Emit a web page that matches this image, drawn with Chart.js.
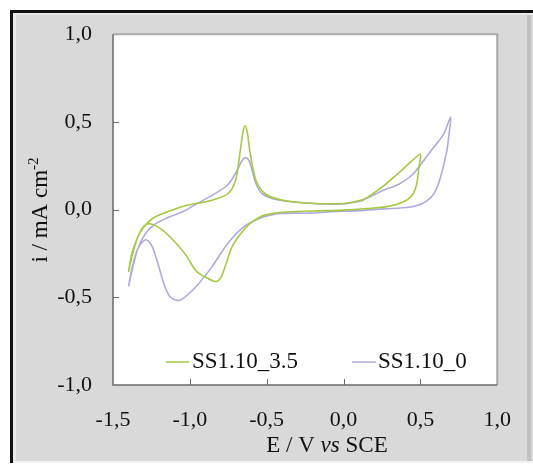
<!DOCTYPE html>
<html>
<head>
<meta charset="utf-8">
<script src="https://cdn.jsdelivr.net/npm/chart.js@4/dist/chart.umd.min.js"></script>
<style>
  html, body { margin: 0; padding: 0; background: #fff; }
</style>
</head>
<body>
<canvas id="cvChart" width="533" height="466"></canvas>
<script>
// series names and colours (legend order)
const seriesNames = ["SS1.10_3.5", "SS1.10_0"];
const seriesColors = ["#a5c942", "#aeaadc"];

// SS1.10_3.5 - one cycle: anodic sweep from -1.4 V to 0.5 V, then back
const greenE = [-1.399, -1.38, -1.354, -1.32, -1.28, -1.23, -1.127, -1.024, -0.92, -0.85, -0.755, -0.703, -0.672, -0.655, -0.641, -0.626, -0.61, -0.569, -0.507, -0.403, -0.217, 0.0, 0.1, 0.155, 0.26, 0.36, 0.445, 0.5,
  0.49, 0.476, 0.445, 0.383, 0.28, 0.155, 0.0, -0.2, -0.403, -0.507, -0.55, -0.615, -0.672, -0.724, -0.765, -0.796, -0.83, -0.9, -0.962, -1.024, -1.106, -1.189, -1.261, -1.30, -1.34, -1.375, -1.399];
const greenI = [-0.355, -0.26, -0.19, -0.125, -0.08, -0.044, -0.006, 0.023, 0.041, 0.055, 0.089, 0.165, 0.335, 0.44, 0.478, 0.44, 0.335, 0.165, 0.089, 0.055, 0.036, 0.035, 0.05, 0.07, 0.135, 0.21, 0.278, 0.316,
  0.24, 0.146, 0.08, 0.042, 0.017, 0.006, -0.003, -0.008, -0.015, -0.03, -0.045, -0.085, -0.14, -0.21, -0.31, -0.384, -0.41, -0.384, -0.347, -0.261, -0.176, -0.11, -0.081, -0.095, -0.16, -0.26, -0.355];

// SS1.10_0 - one cycle: anodic sweep from -1.4 V to 0.7 V, then back
const lavE = [-1.399, -1.367, -1.336, -1.293, -1.23, -1.146, -1.04, -0.962, -0.858, -0.755, -0.693, -0.66, -0.637, -0.615, -0.6, -0.569, -0.527, -0.424, -0.217, -0.008, 0.119, 0.155, 0.26, 0.362, 0.45, 0.496, 0.569, 0.651, 0.697,
  0.685, 0.672, 0.631, 0.6, 0.569, 0.507, 0.424, 0.259, 0.1, -0.1, -0.217, -0.403, -0.527, -0.651, -0.755, -0.858, -0.962, -1.065, -1.127, -1.168, -1.21, -1.251, -1.288, -1.334, -1.375, -1.399];
const lavI = [-0.438, -0.313, -0.218, -0.142, -0.085, -0.047, -0.009, 0.03, 0.08, 0.14, 0.222, 0.28, 0.297, 0.28, 0.24, 0.146, 0.089, 0.055, 0.036, 0.032, 0.051, 0.066, 0.11, 0.146, 0.2, 0.25, 0.335, 0.43, 0.528,
  0.42, 0.335, 0.184, 0.11, 0.07, 0.032, 0.013, 0.004, -0.006, -0.013, -0.02, -0.022, -0.044, -0.1, -0.195, -0.328, -0.441, -0.517, -0.498, -0.425, -0.30, -0.2, -0.172, -0.214, -0.328, -0.438];

// axis ticks
const xTicks = [-1.5, -1.0, -0.5, 0.0, 0.5, 1.0];
const yTicks = [-1.0, -0.5, 0.0, 0.5, 1.0];

const FONT = '"Liberation Serif", "Times New Roman", serif';

function toPoints(xs, ys) {
  return xs.map((x, i) => ({ x: x, y: ys[i] }));
}

function commaNum(v) {
  return Number(v).toFixed(1).replace('.', ',');
}

// grey frame, white plot area, inward ticks, legend and axis titles
const framePlugin = {
  id: 'frame',
  beforeDraw(chart) {
    const ctx = chart.ctx;
    const a = chart.chartArea;
    ctx.save();
    ctx.fillStyle = '#ffffff';
    ctx.fillRect(0, 0, 533, 466);
    ctx.fillStyle = '#d9d9d9';
    ctx.fillRect(10, 10, 523, 452);
    ctx.fillStyle = '#111';
    ctx.fillRect(10, 10, 523, 3);
    ctx.fillRect(10, 10, 3, 453);
    ctx.fillStyle = '#e9e9e9';
    ctx.fillRect(13, 13, 520, 2);
    ctx.fillRect(13, 13, 3, 448);
    ctx.fillStyle = '#c2c2c2';
    ctx.fillRect(527, 15, 4, 446);
    ctx.fillStyle = '#f2f2f2';
    ctx.fillRect(13, 461, 520, 2);
    ctx.fillStyle = '#ffffff';
    ctx.fillRect(a.left, a.top, a.right - a.left, a.bottom - a.top);
    ctx.restore();
  },
  afterDraw(chart) {
    const ctx = chart.ctx;
    const a = chart.chartArea;
    const xs = chart.scales.x;
    const ys = chart.scales.y;
    ctx.save();

    // plot border
    ctx.lineWidth = 2;
    ctx.strokeStyle = '#a9a9a9';
    ctx.beginPath();
    ctx.moveTo(a.left, a.top);
    ctx.lineTo(a.right, a.top);
    ctx.lineTo(a.right, a.bottom);
    ctx.stroke();
    ctx.lineWidth = 1.5;
    ctx.strokeStyle = '#6a6a6a';
    ctx.beginPath();
    ctx.moveTo(a.left, a.top);
    ctx.lineTo(a.left, a.bottom);
    ctx.lineTo(a.right, a.bottom);
    ctx.stroke();

    // inward tick marks
    ctx.lineWidth = 1;
    ctx.strokeStyle = '#6a6a6a';
    xTicks.slice(1, -1).forEach(v => {
      const px = Math.round(xs.getPixelForValue(v)) + 0.5;
      ctx.beginPath();
      ctx.moveTo(px, a.bottom);
      ctx.lineTo(px, a.bottom - 6);
      ctx.stroke();
    });
    yTicks.slice(1, -1).forEach(v => {
      const py = Math.round(ys.getPixelForValue(v)) + 0.5;
      ctx.beginPath();
      ctx.moveTo(a.left, py);
      ctx.lineTo(a.left + 6, py);
      ctx.stroke();
    });

    // legend inside the plot
    const legendPos = [[166, 189, 192], [352, 376, 378]];
    ctx.font = '23px ' + FONT;
    ctx.textBaseline = 'middle';
    ctx.textAlign = 'left';
    seriesNames.forEach((name, i) => {
      const [x0, x1, tx] = legendPos[i];
      ctx.strokeStyle = seriesColors[i];
      ctx.lineWidth = 1.5;
      ctx.beginPath();
      ctx.moveTo(x0, 362);
      ctx.lineTo(x1, 362);
      ctx.stroke();
      ctx.fillStyle = '#111';
      ctx.fillText(name, tx, 362);
    });

    // x title with italic "vs"
    ctx.textBaseline = 'alphabetic';
    const parts = [['E / V ', 'normal'], ['vs', 'italic'], [' SCE', 'normal']];
    let total = 0;
    parts.forEach(p => {
      ctx.font = p[1] + ' 23px ' + FONT;
      total += ctx.measureText(p[0]).width;
    });
    let x = 327 - total / 2;
    parts.forEach(p => {
      ctx.font = p[1] + ' 23px ' + FONT;
      ctx.fillText(p[0], x, 452);
      x += ctx.measureText(p[0]).width;
    });

    // y title with superscript
    ctx.translate(47, 210);
    ctx.rotate(-Math.PI / 2);
    ctx.font = '23px ' + FONT;
    const main = 'i / mA cm';
    const wMain = ctx.measureText(main).width;
    ctx.font = '15px ' + FONT;
    const sup = '-2';
    const wSup = ctx.measureText(sup).width;
    const start = -(wMain + wSup) / 2;
    ctx.font = '23px ' + FONT;
    ctx.fillText(main, start, 0);
    ctx.font = '15px ' + FONT;
    ctx.fillText(sup, start + wMain, -9);

    ctx.restore();
  }
};

new Chart(document.getElementById('cvChart'), {
  type: 'scatter',
  data: {
    datasets: [
      {
        label: seriesNames[0],
        data: toPoints(greenE, greenI),
        showLine: true,
        borderColor: seriesColors[0],
        borderWidth: 1.6,
        pointRadius: 0,
        tension: 0.3,
        fill: false
      },
      {
        label: seriesNames[1],
        data: toPoints(lavE, lavI),
        showLine: true,
        borderColor: seriesColors[1],
        borderWidth: 1.6,
        pointRadius: 0,
        tension: 0.3,
        fill: false
      }
    ]
  },
  options: {
    responsive: false,
    animation: false,
    devicePixelRatio: 1,
    layout: { padding: { top: 33, right: 17, bottom: 0, left: 0 } },
    plugins: {
      legend: { display: false },
      tooltip: { enabled: false },
      title: { display: false }
    },
    scales: {
      x: {
        type: 'linear',
        min: xTicks[0],
        max: xTicks[xTicks.length - 1],
        afterBuildTicks: s => { s.ticks = xTicks.map(v => ({ value: v })); },
        afterFit: s => { s.height = 81; },
        grid: { display: false, drawTicks: false },
        border: { display: false },
        ticks: {
          padding: 22,
          color: '#111',
          font: { family: FONT, size: 22 },
          callback: v => commaNum(v)
        }
      },
      y: {
        type: 'linear',
        min: yTicks[0],
        max: yTicks[yTicks.length - 1],
        afterBuildTicks: s => { s.ticks = yTicks.map(v => ({ value: v })); },
        afterFit: s => { s.width = 113; },
        grid: { display: false, drawTicks: false },
        border: { display: false },
        ticks: {
          padding: 21,
          color: '#111',
          font: { family: FONT, size: 22 },
          callback: v => commaNum(v)
        }
      }
    }
  },
  plugins: [framePlugin]
});
</script>
</body>
</html>
